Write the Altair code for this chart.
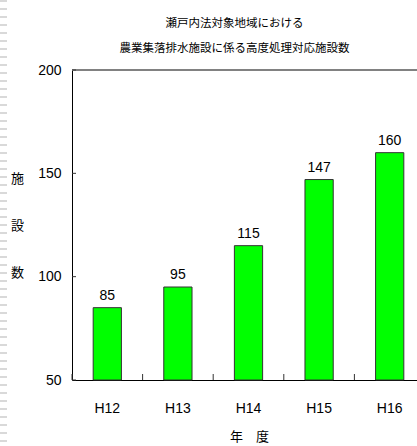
import altair as alt
import pandas as pd

# Facilities with advanced treatment, by fiscal year
years = ["H12", "H13", "H14", "H15", "H16"]
counts = [85, 95, 115, 147, 160]
y_ticks = [50, 100, 150, 200]

title_lines = ["瀬戸内法対象地域における", "農業集落排水施設に係る高度処理対応施設数"]
x_title = "年　度"
y_title = ["施", "設", "数"]

W, H = 345, 310        # visible plot area
BAND_SPAN = 353        # five category bands; the last runs past the right edge
CJK = "Noto Sans CJK JP"
NUM = "Liberation Sans Narrow, Arial Narrow, Liberation Sans, sans-serif"

bars_df = pd.DataFrame({"year": years, "count": counts})
ticks_df = pd.DataFrame({"v": y_ticks})

y_scale = alt.Scale(domain=[50, 200], zero=False, nice=False)
x_scale = alt.Scale(paddingInner=0, paddingOuter=0, range=[0, BAND_SPAN])

x_enc = alt.X(
    "year:N",
    sort=years,
    scale=x_scale,
    axis=alt.Axis(
        labelAngle=0, ticks=False, domainColor="#000000", domainWidth=1,
        labelFont=NUM, labelFontSize=14, labelColor="#000000", labelPadding=21,
        title=x_title, titleFont=CJK, titleFontSize=13, titleFontWeight="normal",
        titleColor="#000000", titleX=BAND_SPAN / 2 - 19, titleY=56,
        titleBaseline="middle", titleAlign="left",
    ),
)

y_enc = alt.Y(
    "count:Q",
    scale=y_scale,
    axis=alt.Axis(
        values=y_ticks, ticks=False, grid=False, domainColor="#000000", domainWidth=1,
        labelFont=NUM, labelFontSize=14, labelColor="#000000", labelPadding=11,
        title=y_title, titleAngle=0, titleFont=CJK, titleFontSize=13,
        titleFontWeight="normal", titleColor="#000000", titleLineHeight=47,
        titleX=-55, titleY=102, titleBaseline="top", titleAlign="center",
    ),
)

bars = alt.Chart(bars_df).mark_bar(
    width=alt.RelativeBandSize(0.4), color="#00ff00", stroke="#333333", strokeWidth=1
).encode(x=x_enc, y=y_enc, y2=alt.datum(50))

labels = alt.Chart(bars_df).mark_text(
    baseline="bottom", dy=-5, font=NUM, fontSize=14, color="#000000"
).encode(
    x=alt.X("year:N", sort=years, scale=x_scale),
    y=alt.Y("count:Q", scale=y_scale),
    text="count:Q",
)

# inward tick marks between categories on the bottom axis
x_ticks = alt.Chart(bars_df).mark_rule(color="#333333", strokeWidth=1).encode(
    x=alt.X("year:N", sort=years, scale=x_scale, bandPosition=0),
    y=alt.value(H),
    y2=alt.value(H - 6),
)

# inward tick marks on the value axis
y_tick_marks = alt.Chart(ticks_df).mark_rule(color="#333333", strokeWidth=1).encode(
    y=alt.Y("v:Q", scale=y_scale),
    x=alt.value(0),
    x2=alt.value(4),
)

# top border of the plot frame
top_line = alt.Chart(ticks_df).mark_rule(color="#808080", strokeWidth=1.5).encode(
    y=alt.datum(200, scale=y_scale),
    x=alt.value(0),
    x2=alt.value(W),
)

# dashed page edge on the left
edge = alt.Chart(ticks_df).mark_rule(
    color="#d9d9d9", strokeWidth=7, strokeDash=[2, 6]
).encode(x=alt.value(-68.5), y=alt.value(-70), y2=alt.value(H + 66))

chart = alt.layer(edge, top_line, bars, labels, x_ticks, y_tick_marks).properties(
    width=W,
    height=H,
    autosize=alt.AutoSizeParams(type="none"),
    padding={"left": 72, "top": 70, "right": 0, "bottom": 66},
    background="#ffffff",
    title=alt.TitleParams(
        text=title_lines, font=CJK, fontSize=11.5, fontWeight="normal", color="#000000",
        lineHeight=25, anchor="middle", frame="group", dx=-10, offset=-68.5,
        baseline="bottom",
    ),
).configure_view(stroke=None)

chart.save("out.html", embed_options={"renderer": "svg", "actions": False})
